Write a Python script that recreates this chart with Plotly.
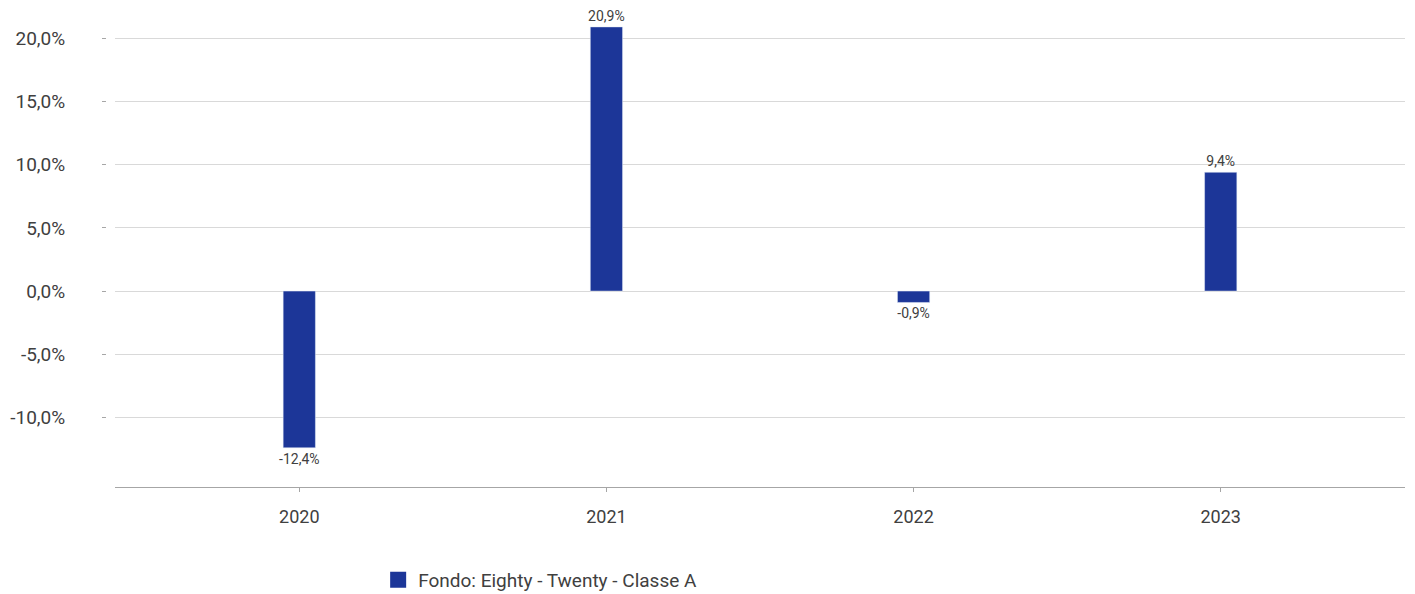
import plotly.graph_objects as go

years = ["2020", "2021", "2022", "2023"]
returns = [-12.4, 20.9, -0.9, 9.4]
series_name = "Fondo: Eighty - Twenty - Classe A"
y_ticks = [-10, -5, 0, 5, 10, 15, 20]

def fmt(v):
    return f"{v:.1f}".replace(".", ",") + "%"

FONT = "Roboto, Arial"
TXT = "#404040"
BLUE = "#1c3698"

fig = go.Figure()
fig.add_trace(go.Bar(
    x=years, y=returns, name=series_name, showlegend=False,
    marker_color=BLUE, width=0.105,
    text=[fmt(v) for v in returns], textposition="outside",
    constraintext="none",
    textfont=dict(family=FONT, size=14, color=TXT),
    cliponaxis=False,
))
fig.add_trace(go.Scatter(
    x=[None], y=[None], mode="markers", name=series_name,
    marker=dict(symbol="square", size=16, color=BLUE),
))

fig.update_layout(
    width=1399, height=586,
    paper_bgcolor="white", plot_bgcolor="white",
    margin=dict(l=107, r=2, t=5, b=107, autoexpand=False),
    showlegend=True,
    legend=dict(orientation="h", x=0.204, xanchor="left", y=-0.196, yanchor="middle",
                font=dict(family=FONT, size=19, color=TXT), itemwidth=30,
                itemsizing="trace"),
    shapes=[dict(type="rect", xref="paper", yref="paper",
                 x0=-0.007, x1=-0.0004, y0=-0.01, y1=1.01,
                 fillcolor="white", line=dict(width=0), layer="above")],
)
fig.update_xaxes(
    range=[-0.6, 3.6], automargin=False,
    showline=True, linecolor="#a6a6a6", linewidth=1,
    ticks="outside", ticklen=4, tickcolor="#a6a6a6",
    tickfont=dict(family=FONT, size=18, color=TXT),
    ticklabelstandoff=9,
    showgrid=False,
)
fig.update_yaxes(
    range=[-15.5, 22], automargin=False,
    tickvals=y_ticks, ticktext=[fmt(v) for v in y_ticks],
    tickfont=dict(family=FONT, size=19, color=TXT),
    ticks="outside", ticklen=12, tickcolor="#a6a6a6",
    showgrid=True, gridcolor="#d9d9d9", gridwidth=1,
    zeroline=True, zerolinecolor="#d9d9d9", zerolinewidth=1,
    ticklabelstandoff=33,
)
fig.write_html("out.html")
